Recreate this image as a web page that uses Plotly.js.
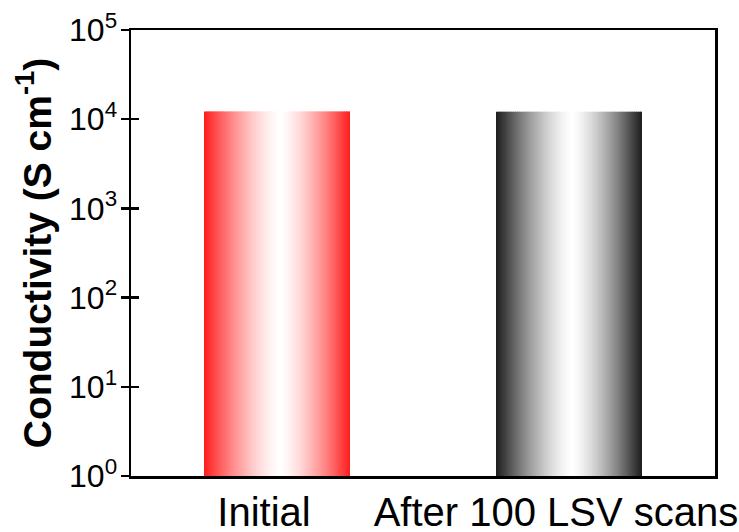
<!DOCTYPE html>
<html>
<head>
<meta charset="utf-8">
<script src="https://cdn.plot.ly/plotly-3.0.1.min.js"></script>
<style>
  html, body { margin: 0; padding: 0; background: #fff; }
  #chart { width: 739px; height: 532px; }
</style>
</head>
<body>
<div id="chart"></div>
<script>
// Conductivity before and after cycling (S cm^-1)
const categories = ['Initial', 'After 100 LSV scans'];
const conductivity = [12200, 12100];
const edgeColors = [[255, 28, 28], [28, 28, 28]];
const yTickVals = [1, 10, 100, 1000, 10000, 100000];
const yTickText = ['10<sup>0</sup>', '10<sup>1</sup>', '10<sup>2</sup>',
                   '10<sup>3</sup>', '10<sup>4</sup>', '10<sup>5</sup>'];

// Each bar is painted as thin vertical strips so it fades from a
// saturated edge colour to white in the middle.
const BAR_WIDTH = 0.5;
const SLICES = 70;
const CENTER = 0.52;

function shade(edge, p) {
  const d = p < CENTER ? (CENTER - p) / CENTER : (p - CENTER) / (1 - CENTER);
  const s = Math.pow(Math.min(d, 1), 1.4);
  const c = edge.map(v => Math.round(255 + (v - 255) * s));
  return `rgb(${c[0]},${c[1]},${c[2]})`;
}

const traces = categories.map((cat, k) => {
  const xs = [], ys = [], offs = [], ws = [], cols = [];
  const step = BAR_WIDTH / SLICES;
  for (let i = 0; i < SLICES; i++) {
    const off = -BAR_WIDTH / 2 + i * step;
    xs.push(cat);
    ys.push(conductivity[k]);
    offs.push(off);
    ws.push(Math.min(step * 1.6, BAR_WIDTH / 2 - off));
    cols.push(shade(edgeColors[k], (i + 0.5) / SLICES));
  }
  return {
    type: 'bar', x: xs, y: ys, offset: offs, width: ws,
    marker: { color: cols, line: { width: 0 } },
    yaxis: k === 0 ? 'y' : 'y2',
    hoverinfo: 'skip', showlegend: false
  };
});

const layout = {
  width: 739, height: 532,
  margin: { l: 131, r: 24, t: 30, b: 56 },
  paper_bgcolor: '#fff', plot_bgcolor: '#fff',
  barmode: 'overlay', showlegend: false,
  font: { family: '"Liberation Sans", Arial, sans-serif', color: '#000' },
  xaxis: {
    type: 'category', range: [-0.5, 1.5],
    showline: true, mirror: true, linewidth: 2.5, linecolor: '#000',
    ticks: '', showgrid: false, zeroline: false,
    tickfont: { size: 40, color: '#000' },
    ticklabelshift: -13,
    ticklabelstandoff: -1,
    automargin: false
  },
  yaxis: {
    type: 'log', range: [0, 5],
    tickvals: yTickVals, ticktext: yTickText,
    ticks: 'outside', ticklen: 8, tickwidth: 2.5, tickcolor: '#000',
    showline: true, mirror: true, linewidth: 2.5, linecolor: '#000',
    showgrid: false, zeroline: false,
    tickfont: { size: 32, color: '#000' },
    ticklabelstandoff: -3,
    title: { text: '<b>Conductivity (S cm<sup>-1</sup>)</b>', font: { size: 39, color: '#000' }, standoff: 6 },
    automargin: false
  },
  yaxis2: {
    type: 'log', range: [0, 5], overlaying: 'y', side: 'left',
    tickvals: yTickVals,
    ticks: 'inside', ticklen: 8, tickwidth: 2.5, tickcolor: '#000',
    showticklabels: false, showline: false, showgrid: false, zeroline: false
  }
};

Plotly.newPlot('chart', traces, layout, { displayModeBar: false, staticPlot: true });
</script>
</body>
</html>
